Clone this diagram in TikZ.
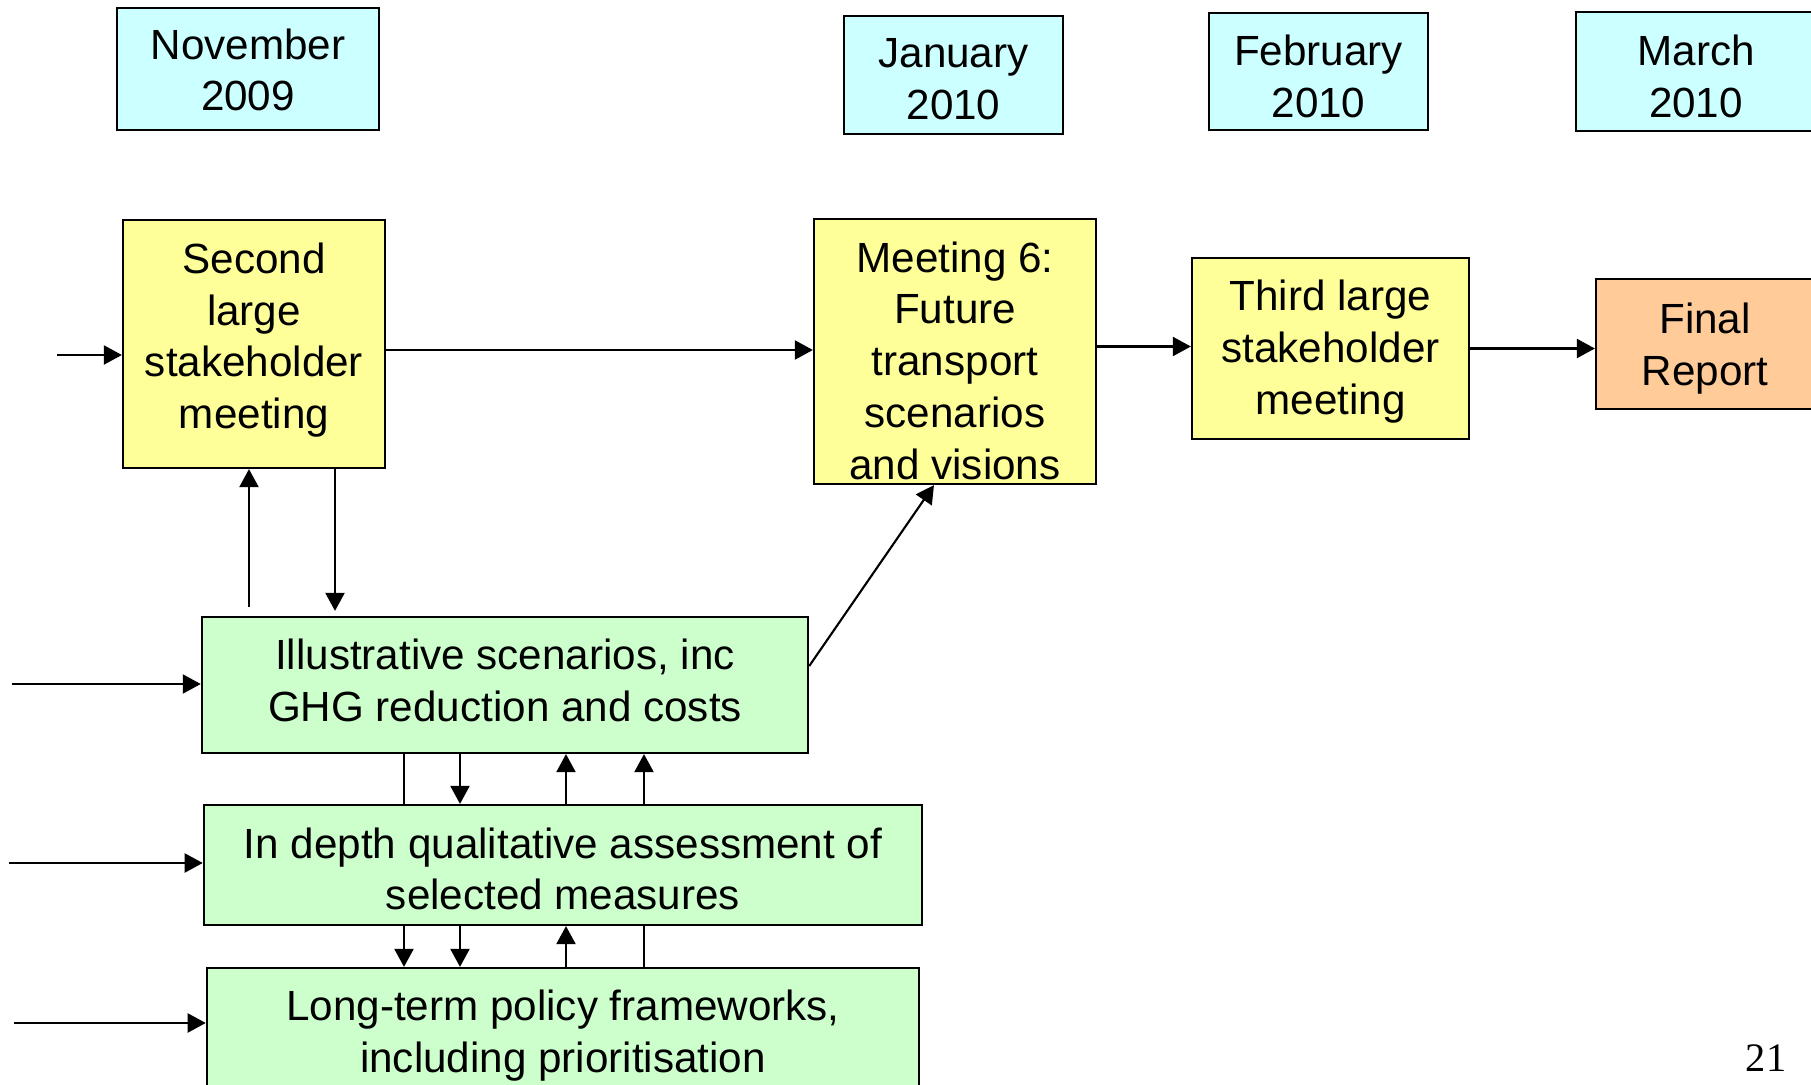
\documentclass[tikz,border=0pt]{standalone}
\usepackage{fontspec}
\setmainfont{Liberation Sans}
\newfontfamily\slidenumfont{Liberation Serif}
\usetikzlibrary{arrows.meta,calc}

\definecolor{datecyan}{HTML}{CCFFFF}
\definecolor{meetyellow}{HTML}{FFFF99}
\definecolor{workgreen}{HTML}{CCFFCC}
\definecolor{reportorange}{HTML}{FFCC99}

% lines of a box, lowered a little inside it
\newcommand\boxtext[2]{\raisebox{-#1}[\height][\depth]{\begin{tabular}{@{}c@{}}#2\end{tabular}}}

\begin{document}
\begin{tikzpicture}[
    x=0.01cm, y=-0.01cm,
    font=\fontsize{12}{14.7}\selectfont,
    box/.style={draw, line width=0.6pt, rectangle, inner sep=0pt},
    date/.style={box, fill=datecyan},
    meet/.style={box, fill=meetyellow},
    work/.style={box, fill=workgreen},
    report/.style={box, fill=reportorange},
    arr/.style={line width=0.6pt, -{Triangle[length=0.18cm, width=0.19cm]}},
    line/.style={line width=0.6pt}
]
    \useasboundingbox (0,0) rectangle (1811,1085);
    \clip (0,0) rectangle (1811,1085);

    % Dates at top
    \node[date, minimum width=2.62cm, minimum height=1.22cm] (nov) at (248,69) {\boxtext{1.65pt}{November\\2009}};
    \node[date, minimum width=2.19cm, minimum height=1.18cm] (jan) at (953.5,75) {\boxtext{2.36pt}{January\\2010}};
    \node[date, minimum width=2.19cm, minimum height=1.17cm] (feb) at (1318.5,71.5) {\boxtext{2.79pt}{February\\2010}};
    \node[date, minimum width=2.40cm, minimum height=1.19cm] (mar) at (1696,71.5) {\boxtext{2.79pt}{March\\2010}};

    % Meetings and report
    \node[meet, minimum width=2.62cm, minimum height=2.48cm] (second) at (254,344) {\boxtext{-0.91pt}{Second\\large\\stakeholder\\meeting}};
    \node[meet, minimum width=2.82cm, minimum height=2.65cm] (m6) at (955,351.5) {\boxtext{3.93pt}{Meeting 6:\\Future\\transport\\scenarios\\and visions}};
    \node[meet, minimum width=2.77cm, minimum height=1.81cm] (third) at (1330.5,348.5) {\boxtext{1.08pt}{Third large\\stakeholder\\meeting}};
    \node[report, minimum width=2.18cm, minimum height=1.30cm] (final) at (1705,344) {\boxtext{1.37pt}{Final\\Report}};

    % Work streams
    \node[work, minimum width=6.06cm, minimum height=1.36cm] (illus) at (505,685) {\boxtext{0pt}{Illustrative scenarios, inc\\GHG reduction and costs}};
    \node[work, minimum width=7.18cm, minimum height=1.20cm] (indepth) at (563,865) {\boxtext{2.5pt}{In depth qualitative assessment of\\selected measures}};
    \node[work, minimum width=7.12cm, minimum height=1.26cm] (longterm) at (563,1031) {\boxtext{1.37pt}{Long-term policy frameworks,\\including prioritisation}};

    % Page number
    \node[font=\slidenumfont\fontsize{11.5}{13}\selectfont] (pagenum) at (1766,1058) {21};

    % Free ends and columns
    \coordinate (in1) at (57,355);
    \coordinate (in2) at (12,684);
    \coordinate (in3) at (9,863);
    \coordinate (in4) at (14,1023);
    \coordinate (up) at (249,0);
    \coordinate (down) at (335,0);
    \coordinate (c1) at (404,0);
    \coordinate (c2) at (460,0);
    \coordinate (c3) at (566,0);
    \coordinate (c4) at (644,0);

    % Inputs from the left
    \draw[arr] (in1) -- (in1 -| second.west);
    \foreach \p/\n in {in2/illus, in3/indepth, in4/longterm}
        \draw[arr] (\p) -- (\p -| \n.west);

    % Top row flow
    \draw[arr] ([yshift=-0.06cm]second.east) -- ([yshift=-0.06cm]second.east -| m6.west);
    \draw[arr] ([yshift=0.05cm]m6.east) -- ([yshift=0.05cm]m6.east -| third.west);
    \draw[arr] (third.east) -- (third.east -| final.west);

    % Second meeting and scenarios
    \draw[arr, shorten <=0.09cm] (illus.north -| up) -- (second.south -| up);
    \draw[arr, shorten >=0.05cm] (second.south -| down) -- (illus.north -| down);
    \draw[arr] ($(illus.east)+(0,-19)$) -- ([xshift=-0.21cm]m6.south);

    % Between the work streams
    \draw[line] (illus.south -| c1) -- (indepth.north -| c1);
    \draw[arr] (illus.south -| c2) -- (indepth.north -| c2);
    \foreach \c in {c3,c4}
        \draw[arr] (indepth.north -| \c) -- (illus.south -| \c);
    \foreach \c in {c1,c2}
        \draw[arr] (indepth.south -| \c) -- (longterm.north -| \c);
    \draw[arr] (longterm.north -| c3) -- (indepth.south -| c3);
    \draw[line] (indepth.south -| c4) -- (longterm.north -| c4);

\end{tikzpicture}
\end{document}
